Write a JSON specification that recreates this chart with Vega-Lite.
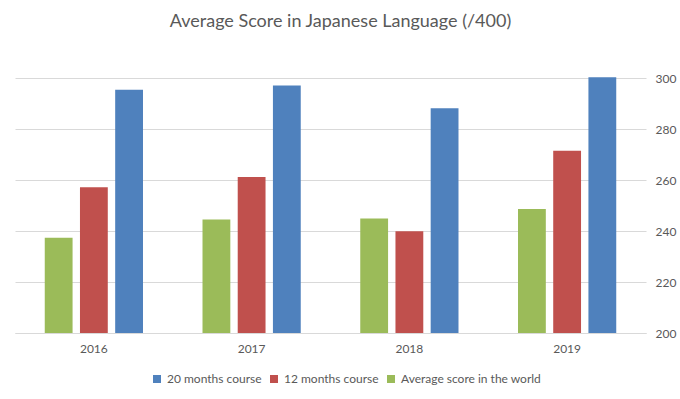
{
  "$schema": "https://vega.github.io/schema/vega-lite/v6.json",
  "autosize": "none",
  "width": 631,
  "height": 255,
  "padding": {"left": 15, "top": 78, "right": 34, "bottom": 66},
  "background": "white",
  "config": {"view": {"stroke": null}, "font": "Lato"},
  "title": {
    "text": "Average Score in Japanese Language (/400)",
    "fontSize": 18,
    "fontWeight": "normal",
    "color": "#595959",
    "font": "Lato",
    "offset": 41,
    "dx": 10
  },
  "data": {
    "values": [
      {"year": "2016", "series": "Average score in the world", "score": 237.4},
      {"year": "2016", "series": "12 months course", "score": 257.2},
      {"year": "2016", "series": "20 months course", "score": 295.4},
      {"year": "2017", "series": "Average score in the world", "score": 244.5},
      {"year": "2017", "series": "12 months course", "score": 261.2},
      {"year": "2017", "series": "20 months course", "score": 297.1},
      {"year": "2018", "series": "Average score in the world", "score": 244.9},
      {"year": "2018", "series": "12 months course", "score": 239.9},
      {"year": "2018", "series": "20 months course", "score": 288.1},
      {"year": "2019", "series": "Average score in the world", "score": 248.6},
      {"year": "2019", "series": "12 months course", "score": 271.5},
      {"year": "2019", "series": "20 months course", "score": 300.3}
    ]
  },
  "mark": {"type": "bar", "clip": false},
  "encoding": {
    "x": {
      "field": "year",
      "type": "nominal",
      "scale": {"paddingInner": 0, "paddingOuter": 0},
      "axis": {
        "title": null,
        "labelAngle": 0,
        "labelFontSize": 12,
        "labelColor": "#595959",
        "labelPadding": 10,
        "ticks": false,
        "domainColor": "#d9d9d9",
        "domainWidth": 1
      }
    },
    "xOffset": {
      "field": "series",
      "type": "nominal",
      "sort": ["Average score in the world", "12 months course", "20 months course"],
      "scale": {"paddingInner": 0.21, "paddingOuter": 0.845}
    },
    "y": {
      "field": "score",
      "type": "quantitative",
      "scale": {"domain": [200, 300], "nice": false, "zero": false},
      "axis": {
        "orient": "right",
        "title": null,
        "values": [200, 220, 240, 260, 280, 300],
        "labelFontSize": 12,
        "labelColor": "#595959",
        "labelPadding": 9,
        "ticks": false,
        "domain": false,
        "gridColor": "#d9d9d9",
        "gridWidth": 1
      }
    },
    "y2": {"datum": 200},
    "color": {
      "field": "series",
      "type": "nominal",
      "scale": {
        "domain": ["20 months course", "12 months course", "Average score in the world"],
        "range": ["#4F81BD", "#C0504D", "#9BBB59"]
      },
      "legend": {
        "title": null,
        "orient": "none",
        "legendX": 136,
        "legendY": 295,
        "direction": "horizontal",
        "symbolType": "square",
        "symbolSize": 64,
        "symbolStrokeWidth": 0,
        "labelFontSize": 12,
        "labelColor": "#595959",
        "columnPadding": 6,
        "labelOffset": 4
      }
    }
  }
}
